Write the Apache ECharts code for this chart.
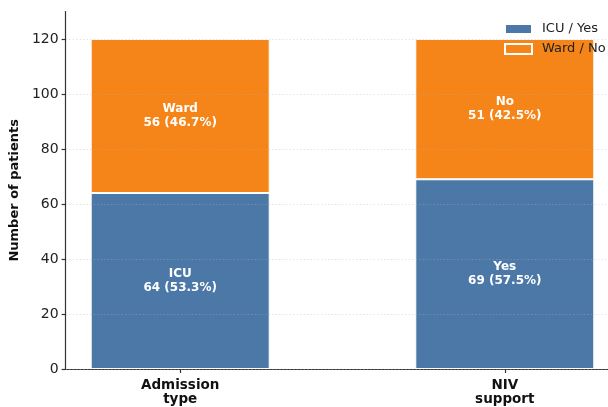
<!DOCTYPE html>
<html>
<head>
<meta charset="utf-8">
<script src="https://cdn.jsdelivr.net/npm/echarts@6/dist/echarts.min.js"></script>
<style>
  html, body { margin: 0; padding: 0; background: #ffffff; }
  #chart { width: 608px; height: 407px; }
</style>
</head>
<body>
<div id="chart"></div>
<script>
// Groups shown along the x axis (placed at x = 0 and x = 1)
const categories = ['Admission\ntype', 'NIV\nsupport'];
const positions = [0, 1];

// Lower segment (ICU / Yes) and upper segment (Ward / No)
const lowerNames = ['ICU', 'Yes'];
const lowerValues = [64, 69];
const upperNames = ['Ward', 'No'];
const upperValues = [56, 51];

const yTicks = [0, 20, 40, 60, 80, 100, 120];
const seriesNames = ['ICU / Yes', 'Ward / No'];

const totals = lowerValues.map((v, i) => v + upperValues[i]);
const pct = (v, i) => (v / totals[i] * 100).toFixed(1);

const FONT = 'DejaVu Sans';
const chart = echarts.init(document.getElementById('chart'), null, { renderer: 'canvas' });

function segLabel(names, values) {
  return {
    show: true,
    position: 'inside',
    color: '#ffffff',
    fontFamily: FONT,
    fontWeight: 'bold',
    fontSize: 12,
    lineHeight: 14,
    formatter: p => names[p.dataIndex] + '\n' + values[p.dataIndex] + ' (' + pct(values[p.dataIndex], p.dataIndex) + '%)'
  };
}

// Rows are [count, position]; the count column comes first so that
// stacking is applied to the count (y) dimension.
const rows = values => positions.map((x, i) => [values[i], x]);

chart.setOption({
  animation: false,
  grid: { left: 64, right: 0, top: 11.5, bottom: 38, containLabel: false },
  legend: {
    orient: 'vertical',
    left: 504,
    top: 21,
    padding: 0,
    icon: 'rect',
    itemWidth: 27,
    itemHeight: 10,
    itemGap: 4,
    textStyle: { fontFamily: FONT, fontSize: 13, color: '#222222', lineHeight: 16, padding: [0, 0, 0, 5] },
    itemStyle: { borderColor: '#ffffff', borderWidth: 2 },
    data: seriesNames
  },
  xAxis: {
    type: 'value',
    min: -0.353,
    max: 1.318,
    splitLine: { show: false },
    axisLine: { show: true, onZero: false, lineStyle: { color: '#333333', width: 1.2 } },
    axisTick: { show: true, customValues: positions, length: 4, lineStyle: { color: '#333333', width: 1.2 } },
    axisLabel: {
      customValues: positions,
      formatter: v => categories[Math.round(v)],
      fontFamily: FONT, fontWeight: 'bold', fontSize: 13.5, color: '#111111',
      lineHeight: 14, margin: 9
    }
  },
  yAxis: {
    type: 'value',
    min: 0,
    max: 130,
    z: 3,
    name: 'Number of patients',
    nameLocation: 'middle',
    nameGap: 42,
    nameTextStyle: { fontFamily: FONT, fontWeight: 'bold', fontSize: 13, color: '#111111' },
    axisLine: { show: true, onZero: false, lineStyle: { color: '#333333', width: 1.2 } },
    axisTick: { show: true, customValues: yTicks, length: 4, lineStyle: { color: '#333333', width: 1.2 } },
    axisLabel: { customValues: yTicks, fontFamily: FONT, fontSize: 14, color: '#222222', margin: 7 },
    splitLine: { show: true, lineStyle: { color: 'rgba(180,180,180,0.45)', type: [1.5, 2], width: 0.8 } }
  },
  series: [
    {
      name: seriesNames[0],
      type: 'bar',
      stack: 'total',
      barWidth: 179,
      encode: { x: 1, y: 0 },
      itemStyle: { color: '#4c78a8', borderColor: '#ffffff', borderWidth: 1 },
      label: segLabel(lowerNames, lowerValues),
      data: rows(lowerValues)
    },
    {
      name: seriesNames[1],
      type: 'bar',
      stack: 'total',
      barWidth: 179,
      encode: { x: 1, y: 0 },
      itemStyle: { color: '#f58518', borderColor: '#ffffff', borderWidth: 1 },
      label: segLabel(upperNames, upperValues),
      data: rows(upperValues)
    }
  ]
});
</script>
</body>
</html>
